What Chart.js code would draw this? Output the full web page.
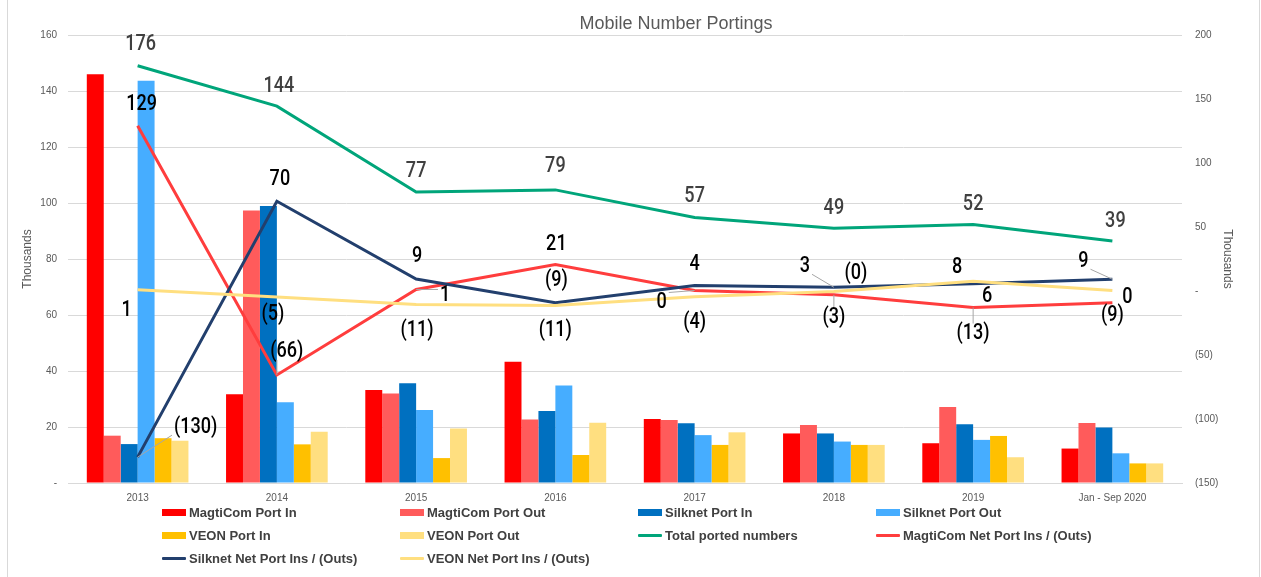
<!DOCTYPE html>
<html>
<head>
<meta charset="utf-8">
<title>Mobile Number Portings</title>
<script src="https://cdn.jsdelivr.net/npm/chart.js@4.4.1/dist/chart.umd.min.js"></script>
<style>
    html, body { margin: 0; padding: 0; background: #fff; }
    #wrap { position: relative; width: 1261px; height: 577px; overflow: hidden; }
    #frame { position: absolute; left: 7px; top: 0; width: 1253px; height: 577px; border-left: 1px solid #d9d9d9; border-right: 1px solid #d9d9d9; box-sizing: border-box; }
    canvas { position: absolute; left: 0; top: 0; }
    #legend { position: absolute; left: 162px; top: 503px; display: grid; grid-template-columns: repeat(4, 238px); row-gap: 5px; font: bold 13px "Liberation Sans", Arial, sans-serif; color: #404040; }
    .item { display: flex; align-items: center; height: 18px; white-space: nowrap; }
    .sw { width: 24px; height: 7px; margin-right: 3px; }
    .ln { width: 24px; height: 3px; margin-right: 3px; border-radius: 1px; }
</style>
</head>
<body>
<div id="wrap">
    <div id="frame"></div>
    <canvas id="chart" width="1261" height="577"></canvas>
    <div id="legend"></div>
</div>
<script>
const categories = ['2013', '2014', '2015', '2016', '2017', '2018', '2019', 'Jan - Sep 2020'];

// bars, thousands (left axis)
const magtiIn    = [146.0, 31.7, 33.2, 43.3, 22.9, 17.7, 14.2, 12.3];
const magtiOut   = [16.9, 97.3, 32.0, 22.7, 22.5, 20.7, 27.1, 21.4];
const silknetIn  = [13.9, 98.9, 35.6, 25.7, 21.3, 17.7, 21.0, 19.8];
const silknetOut = [143.7, 28.8, 26.1, 34.8, 17.1, 14.8, 15.4, 10.6];
const veonIn     = [16.0, 13.8, 8.9, 10.0, 13.6, 13.6, 16.8, 7.0];
const veonOut    = [15.1, 18.3, 19.5, 21.5, 18.1, 13.6, 9.2, 7.0];

// lines, thousands (right axis)
const totalPorted = [176.0, 144.4, 77.3, 79.0, 57.4, 49.0, 52.0, 39.1];
const magtiNet    = [129.1, -65.6, 1.2, 20.6, 0.4, -3.0, -12.9, -9.1];
const silknetNet  = [-129.8, 70.1, 9.4, -9.1, 4.2, 2.9, 5.6, 9.2];
const veonNet     = [0.9, -4.6, -10.6, -11.4, -4.4, -0.3, 7.6, 0.3];

const leftTicks  = [0, 20, 40, 60, 80, 100, 120, 140, 160];
const rightTicks = [-150, -100, -50, 0, 50, 100, 150, 200];

// label placement relative to each point: [dx, dy, leader line]
const labelOffsets = {
    total:   [[3, -22], [2, -21], [0, -22], [0, -24], [0, -22], [0, -21], [0, -21], [3, -20]],
    magti:   [[4, -22], [10, -24, 1], [29, 5, 1], [1, -21], [-33, 11, 1], [0, 22, 1], [0, 25, 1], [0, 12]],
    silknet: [[58, -31, 1], [3, -23], [1, -23], [1, -23], [0, -22], [-29, -22, 1], [14, 12], [-29, -19, 1]],
    veon:    [[-11, 20], [-4, 17], [1, 25], [0, 24], [0, 25], [22, -19], [-16, -15], [15, 6]]
};

function fmtNum(v) {
    if (v < 0) return '(' + Math.round(-v) + ')';
    return String(Math.round(v));
}

const tickFont = { family: '"Liberation Sans", Arial, sans-serif', size: 10 };

// data labels + title drawn on top of the datasets
const pointLabels = {
    id: 'pointLabels',
    afterDatasetsDraw(chart, args, opts) {
        const ctx = chart.ctx;
        ctx.save();
        ctx.textAlign = 'center';
        ctx.textBaseline = 'middle';
        ctx.font = opts.font;
        chart.data.datasets.forEach((ds, i) => {
            if (!ds.labelKey) return;
            const meta = chart.getDatasetMeta(i);
            const offs = opts.offsets[ds.labelKey];
            meta.data.forEach((pt, j) => {
                const [dx, dy, leader] = offs[j];
                const x = pt.x + dx;
                const y = pt.y + dy;
                const txt = fmtNum(ds.data[j]);
                if (leader) {
                    const hw = ctx.measureText(txt).width * opts.squeeze / 2 + 2;
                    const hh = 9;
                    const ex = Math.min(Math.max(pt.x, x - hw), x + hw);
                    const ey = Math.min(Math.max(pt.y, y - hh), y + hh);
                    ctx.strokeStyle = '#a6a6a6';
                    ctx.lineWidth = 1;
                    ctx.beginPath();
                    ctx.moveTo(pt.x, pt.y);
                    ctx.lineTo(ex, ey);
                    ctx.stroke();
                }
                ctx.fillStyle = ds.labelColor;
                // narrow the glyphs like the condensed label font of the original
                ctx.save();
                ctx.translate(x, y);
                ctx.scale(opts.squeeze, 1);
                ctx.fillText(txt, 0, 1);
                ctx.restore();
            });
        });
        ctx.font = opts.titleFont;
        ctx.fillStyle = '#595959';
        ctx.fillText(opts.title, opts.titleX, opts.titleY);
        ctx.restore();
    }
};

function barSet(label, data, color) {
    return { type: 'bar', label, data, backgroundColor: color, borderWidth: 0, yAxisID: 'y', order: 10 };
}
function lineSet(label, data, color, key, labelColor, order) {
    return {
        type: 'line', label, data, borderColor: color, backgroundColor: color, borderWidth: 3,
        pointRadius: 0, tension: 0, yAxisID: 'y2', order, labelKey: key, labelColor
    };
}

const datasets = [
    barSet('MagtiCom Port In', magtiIn, '#ff0000'),
    barSet('MagtiCom Port Out', magtiOut, '#ff5b5b'),
    barSet('Silknet Port In', silknetIn, '#0070c0'),
    barSet('Silknet Port Out', silknetOut, '#46adff'),
    barSet('VEON Port In', veonIn, '#ffc000'),
    barSet('VEON Port Out', veonOut, '#ffdf80'),
    lineSet('Total ported numbers', totalPorted, '#00a57a', 'total', '#404040', 4),
    lineSet('MagtiCom Net Port Ins / (Outs)', magtiNet, '#ff3d3d', 'magti', '#000000', 3),
    lineSet('Silknet Net Port Ins / (Outs)', silknetNet, '#223f6d', 'silknet', '#000000', 2),
    lineSet('VEON Net Port Ins / (Outs)', veonNet, '#ffdf80', 'veon', '#000000', 1)
];

const chart = new Chart(document.getElementById('chart'), {
    data: { labels: categories, datasets },
    options: {
        responsive: false,
        animation: false,
        layout: { padding: { left: 8, right: 9, top: 35, bottom: 64 } },
        plugins: {
            legend: { display: false },
            title: { display: false },
            tooltip: { enabled: false },
            pointLabels: {
                font: '500 22px Roboto, "Liberation Sans", sans-serif',
                squeeze: 0.82,
                offsets: labelOffsets,
                title: 'Mobile Number Portings',
                titleFont: '18px "Liberation Sans", Arial, sans-serif',
                titleX: 676,
                titleY: 24
            }
        },
        scales: {
            x: {
                offset: true,
                grid: { display: false, drawTicks: false },
                border: { display: true, color: '#d9d9d9' },
                ticks: { color: '#595959', font: tickFont, padding: 9, maxRotation: 0 },
                stacked: false
            },
            y: {
                position: 'left',
                min: 0, max: 160,
                afterBuildTicks: (s) => { s.ticks = leftTicks.map(v => ({ value: v })); },
                afterFit: (s) => { s.width = 60; },
                grid: { color: '#d9d9d9', drawTicks: false },
                border: { display: false },
                ticks: { color: '#595959', font: tickFont, padding: 11, callback: v => v === 0 ? '-' : v },
                title: { display: true, text: 'Thousands', color: '#595959', font: { family: '"Liberation Sans", Arial, sans-serif', size: 12 }, padding: { top: 12, bottom: 0 } }
            },
            y2: {
                position: 'right',
                min: -150, max: 200,
                afterBuildTicks: (s) => { s.ticks = rightTicks.map(v => ({ value: v })); },
                afterFit: (s) => { s.width = 70; },
                grid: { display: false, drawTicks: false },
                border: { display: false },
                ticks: { color: '#595959', font: tickFont, padding: 13, callback: v => v === 0 ? '-' : (v < 0 ? '(' + (-v) + ')' : v) },
                title: { display: true, text: 'Thousands', color: '#595959', font: { family: '"Liberation Sans", Arial, sans-serif', size: 12 }, padding: { top: 17, bottom: 0 } }
            }
        },
        datasets: { bar: { categoryPercentage: 0.73, barPercentage: 1.0 } }
    },
    plugins: [pointLabels]
});

// legend in a 4-column grid like the original
const legendEl = document.getElementById('legend');
chart.data.datasets.forEach(ds => {
    const item = document.createElement('div');
    item.className = 'item';
    const sw = document.createElement('span');
    sw.className = ds.type === 'bar' ? 'sw' : 'ln';
    sw.style.background = ds.type === 'bar' ? ds.backgroundColor : ds.borderColor;
    item.appendChild(sw);
    item.appendChild(document.createTextNode(ds.label));
    legendEl.appendChild(item);
});
</script>
</body>
</html>
